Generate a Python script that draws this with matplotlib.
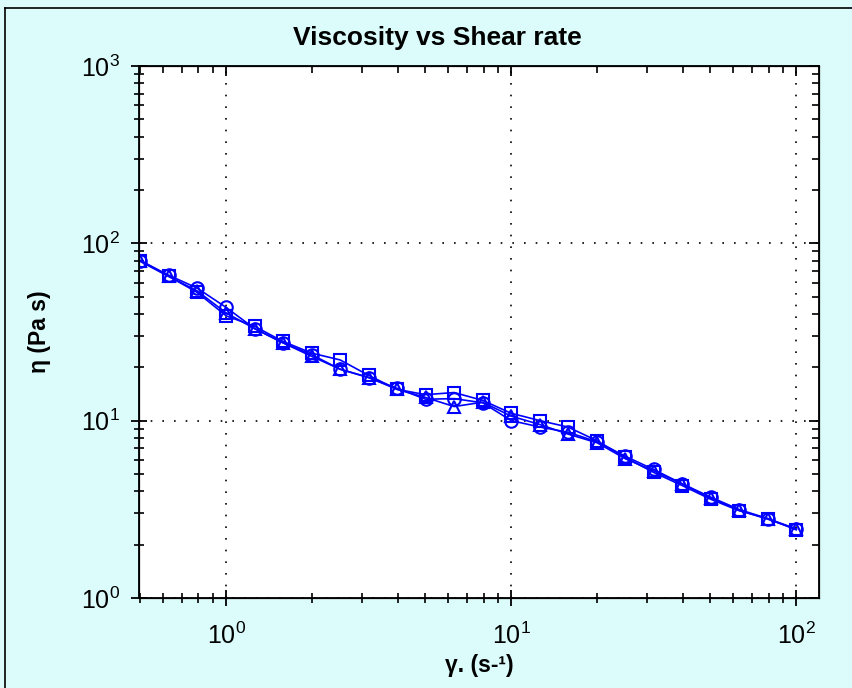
import matplotlib
matplotlib.use("Agg")
import matplotlib.pyplot as plt
from matplotlib.lines import Line2D
import numpy as np

# shear rate points (10 per decade)
shear_rate = [0.5, 0.63, 0.79, 1.0, 1.26, 1.58, 2.0, 2.51, 3.16, 3.98, 5.01, 6.31,
              7.94, 10.0, 12.6, 15.8, 20.0, 25.1, 31.6, 39.8, 50.1, 63.1, 79.4, 100.0]

# viscosity of the three runs
visc_circle = [80, 66, 56, 43.5, 33, 27.5, 23.5, 19.5, 17.5, 15.2, 13.2, 13.3,
               12.6, 10.0, 9.2, 8.6, 7.6, 6.3, 5.3, 4.4, 3.7, 3.15, 2.8, 2.45]
visc_square = [80, 65, 53, 39, 34, 28, 24, 22, 18, 15, 14, 14.4,
               13, 11, 10, 9.2, 7.7, 6.2, 5.1, 4.3, 3.6, 3.1, 2.8, 2.42]
visc_triangle = [79, 65, 54, 40.5, 33, 27.5, 23, 19.5, 17.5, 15, 13.5, 12.0,
                 12.7, 10.6, 9.5, 8.4, 7.5, 6.1, 5.2, 4.4, 3.65, 3.12, 2.78, 2.44]

bg = '#dcfcfc'
blue = '#0000ff'

plt.rcParams['font.family'] = ['Liberation Sans', 'DejaVu Sans']
plt.rcParams['mathtext.fontset'] = 'custom'
plt.rcParams['mathtext.rm'] = 'Liberation Sans'
plt.rcParams['mathtext.it'] = 'Liberation Sans'
plt.rcParams['mathtext.bf'] = 'Liberation Sans:bold'

fig = plt.figure(figsize=(8.53, 6.88), dpi=100, facecolor=bg)
ax = fig.add_axes([0.163, 0.131, 0.797, 0.773])
ax.set_facecolor('white')

# the three series
for vals, mk in [(visc_triangle, '^'), (visc_circle, 'o'), (visc_square, 's')]:
    ax.plot(shear_rate, vals, color=blue, lw=1.2, marker=mk, markersize=9,
            markerfacecolor='none', markeredgecolor=blue, markeredgewidth=1.5)

ax.set_xscale('log')
ax.set_yscale('log')
ax.set_xlim(0.495, 120)
ax.set_ylim(1, 1000)

ax.grid(True, which='major', color='black', linestyle=(0, (1, 6)), linewidth=1.2)

for side in ['left', 'right', 'top', 'bottom']:
    ax.spines[side].set_linewidth(1.3)

ax.tick_params(which='major', direction='inout', length=11, width=1.3, labelsize=18,
               top=False, right=False, pad=8)
ax.tick_params(which='minor', direction='inout', length=7, width=1.2,
               top=False, right=False)
ax.tick_params(axis='x', which='major', pad=12)

# inward ticks on top and right
axt = ax.twiny()
axt.set_xscale('log')
axt.set_xlim(ax.get_xlim())
axt.tick_params(which='major', direction='in', length=7, width=1.3, labeltop=False)
axt.tick_params(which='minor', direction='in', length=5, width=1.2)
axr = ax.twinx()
axr.set_yscale('log')
axr.set_ylim(ax.get_ylim())
axr.tick_params(which='major', direction='in', length=7, width=1.3, labelright=False)
axr.tick_params(which='minor', direction='in', length=5, width=1.2)

fig.text(437 / 853, 1 - 38 / 688, 'Viscosity vs Shear rate', fontsize=19,
         fontweight='bold', ha='center', va='center')
ax.set_xlabel('γ. (s-¹)', fontsize=16.5, fontweight='bold', labelpad=4)
ax.set_ylabel('η (Pa s)', fontsize=16.5, fontweight='bold', labelpad=22)

# outer frame lines of the panel
fig.add_artist(Line2D([0.006, 0.006], [0, 0.988], transform=fig.transFigure,
                      color='black', lw=1.2))
fig.add_artist(Line2D([0.006, 1.0], [0.988, 0.988], transform=fig.transFigure,
                      color='black', lw=1.2))

fig.savefig('out.png', dpi=100, facecolor=bg)
